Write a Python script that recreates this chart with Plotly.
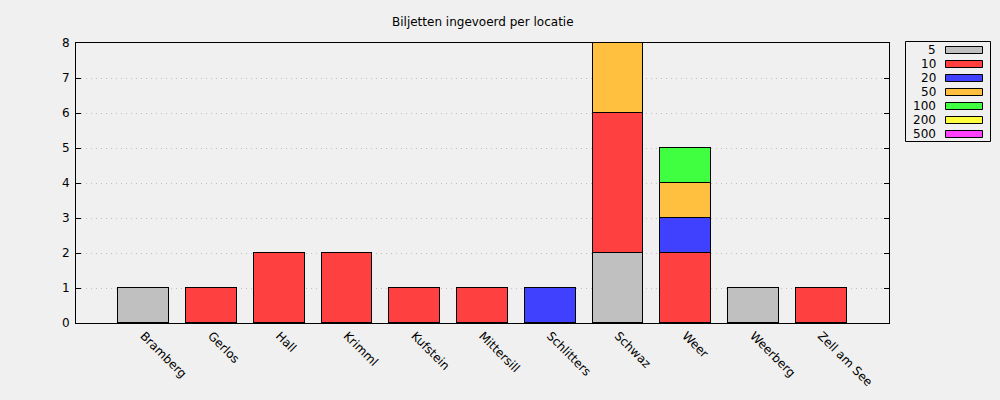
import plotly.graph_objects as go

locations = ["Bramberg", "Gerlos", "Hall", "Krimml", "Kufstein", "Mittersill",
             "Schlitters", "Schwaz", "Weer", "Weerberg", "Zell am See"]
denoms = ["5", "10", "20", "50", "100", "200", "500"]
colors = ["#c0c0c0", "#ff4040", "#4040ff", "#ffc040", "#40ff40", "#ffff40", "#ff40ff"]
counts = {
    "5":   [1, 0, 0, 0, 0, 0, 0, 2, 0, 1, 0],
    "10":  [0, 1, 2, 2, 1, 1, 0, 4, 2, 0, 1],
    "20":  [0, 0, 0, 0, 0, 0, 1, 0, 1, 0, 0],
    "50":  [0, 0, 0, 0, 0, 0, 0, 2, 1, 0, 0],
    "100": [0, 0, 0, 0, 0, 0, 0, 0, 1, 0, 0],
    "200": [0, 0, 0, 0, 0, 0, 0, 0, 0, 0, 0],
    "500": [0, 0, 0, 0, 0, 0, 0, 0, 0, 0, 0],
}
title = "Biljetten ingevoerd per locatie"

W, H = 1000, 400
L, R, T, B = 76, 889, 43, 323

def px(x):
    return (x - L) / (R - L)

def py(y):
    return (B - y) / (B - T)

fig = go.Figure()
xs = list(range(len(locations)))
for d, c in zip(denoms, colors):
    vals = counts[d]
    fig.add_trace(go.Bar(
        x=xs, y=[v if v else None for v in vals], name=d,
        marker=dict(color=c, line=dict(color="black", width=1)),
        width=0.75, showlegend=False,
    ))

shapes = []
annotations = []
# legend box
shapes.append(dict(type="rect", xref="paper", yref="paper",
                   x0=px(905.5), x1=px(990.5), y0=py(141.5), y1=py(41.5),
                   line=dict(color="black", width=1), fillcolor="rgba(0,0,0,0)"))
for i, (d, c) in enumerate(zip(denoms, colors)):
    yc = 50 + 14 * i
    shapes.append(dict(type="rect", xref="paper", yref="paper",
                       x0=px(945.5), x1=px(982.5), y0=py(yc + 3.5), y1=py(yc - 3.5),
                       line=dict(color="black", width=1), fillcolor=c))
    annotations.append(dict(xref="paper", yref="paper", x=px(938), y=py(yc),
                            text=d, showarrow=False, xanchor="right", yanchor="middle",
                            font=dict(family="DejaVu Sans", size=12, color="black")))

annotations.append(dict(xref="paper", yref="paper", x=0.5, y=py(22), text=title,
                        showarrow=False, xanchor="center", yanchor="middle",
                        font=dict(family="DejaVu Sans", size=12, color="black")))

fig.update_layout(
    width=W, height=H,
    margin=dict(l=L, r=W - R, t=T, b=H - B, pad=0),
    paper_bgcolor="#f0f0f0", plot_bgcolor="#f0f0f0",
    barmode="stack", bargap=0,
    font=dict(family="DejaVu Sans", size=12, color="black"),
    shapes=shapes, annotations=annotations, showlegend=False,
    xaxis=dict(range=[-1, len(locations)], tickmode="array", tickvals=xs,
               ticktext=locations, tickangle=45, ticks="", showgrid=False,
               showline=True, linecolor="black", linewidth=1, mirror=True,
               zeroline=False, tickfont=dict(size=12)),
    yaxis=dict(range=[0, 8], dtick=1, ticks="inside", ticklen=5, tickcolor="black",
               showline=True, linecolor="black", linewidth=1, mirror="ticks",
               showgrid=True, gridcolor="#c0c0c0", griddash="1px,4px", gridwidth=1,
               zeroline=False, tickfont=dict(size=12), ticklabelstandoff=3),
)

fig.write_html("out.html", post_script="document.body.style.margin='0';",
               config={"displayModeBar": False})
